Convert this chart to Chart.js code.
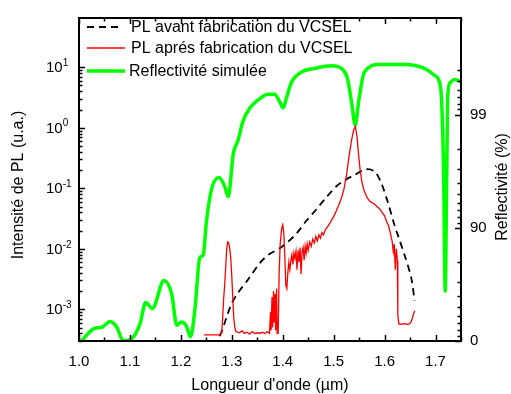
<!DOCTYPE html>
<html>
<head>
<meta charset="utf-8">
<script src="https://cdn.jsdelivr.net/npm/chart.js@4.4.1/dist/chart.umd.min.js"></script>
<style>
  html, body { margin: 0; padding: 0; background: #fff; }
  #wrap { width: 511px; height: 394px; }
</style>
</head>
<body>
<div id="wrap"><canvas id="chart" width="511" height="394"></canvas></div>
<script>
// simulated reflectivity (%) vs wavelength (um)
const reflWavelength = [1.005, 1.031, 1.045, 1.061, 1.074, 1.087, 1.107, 1.120, 1.131, 1.144,
  1.167, 1.182, 1.192, 1.201, 1.211, 1.219, 1.228, 1.237, 1.244, 1.250,
  1.260, 1.275, 1.286, 1.293, 1.303, 1.312, 1.322, 1.335, 1.352, 1.371,
  1.384, 1.394, 1.401, 1.407, 1.417, 1.437, 1.463, 1.496, 1.515, 1.527,
  1.535, 1.5425, 1.549, 1.558, 1.567, 1.587, 1.613, 1.639, 1.678, 1.698,
  1.708, 1.712, 1.716, 1.719, 1.722, 1.724, 1.729, 1.737, 1.750];
const reflectivity = [0.5, 22.9, 24.4, 32.9, 24.8, 0.5, 8.2, 30.2, 54.3, 48.5,
  70.8, 61.6, 27.4, 31.9, 25.9, 8.2, 49.5, 81.6, 82.6, 91.0,
  95.4, 96.4, 95.7, 94.7, 97.8, 98.3, 98.86, 99.12, 99.26, 99.34,
  99.34, 99.23, 99.13, 99.28, 99.48, 99.58, 99.61, 99.63, 99.61, 99.52,
  99.23, 98.76, 99.23, 99.55, 99.61, 99.64, 99.64, 99.64, 99.61, 99.55,
  99.48, 99.23, 96.5, 63.8, 96.5, 99.33, 99.48, 99.51, 99.49];

// PL before VCSEL fabrication (a.u.)
const plBeforeWavelength = [1.2765, 1.283, 1.2896, 1.2994, 1.3124, 1.332, 1.3549, 1.3712, 1.3941, 1.41,
  1.4269, 1.445, 1.4661, 1.485, 1.5053, 1.5182, 1.5412, 1.5641, 1.5804, 1.5935,
  1.6065, 1.6196, 1.6261, 1.6392, 1.6524, 1.6588];
const plBefore = [3.6e-4, 5e-4, 7.4e-4, 1.23e-3, 1.89e-3, 3.12e-3, 5.8e-3, 7.9e-3, 1.02e-2, 1.3e-2,
  1.78e-2, 2.8e-2, 4.5e-2, 7.0e-2, 0.108, 0.130, 0.167, 0.206, 0.189, 0.122,
  0.058, 0.0243, 0.0167, 7.9e-3, 3.3e-3, 1.39e-3];

// PL after VCSEL fabrication (a.u.)
const plAfterWavelength = [1.245, 1.260, 1.275, 1.280, 1.282, 1.284, 1.286, 1.288, 1.290, 1.292,
  1.294, 1.296, 1.298, 1.300, 1.302, 1.304, 1.306, 1.308, 1.315, 1.320,
  1.325, 1.330, 1.335, 1.340, 1.345, 1.350, 1.355, 1.360, 1.365, 1.370,
  1.374, 1.376, 1.377, 1.379, 1.380, 1.382, 1.383, 1.385, 1.386, 1.388,
  1.389, 1.391, 1.393, 1.395, 1.398, 1.400, 1.402, 1.404, 1.406, 1.408,
  1.410, 1.412, 1.414, 1.416, 1.418, 1.420, 1.422, 1.424, 1.426, 1.428,
  1.430, 1.432, 1.434, 1.436, 1.438, 1.440, 1.442, 1.444, 1.446, 1.448,
  1.450, 1.453, 1.456, 1.459, 1.462, 1.465, 1.468, 1.471, 1.474, 1.477,
  1.480, 1.484, 1.488, 1.492, 1.496, 1.500, 1.505, 1.510, 1.515, 1.520,
  1.525, 1.530, 1.535, 1.539, 1.5425, 1.546, 1.549, 1.552, 1.556, 1.560,
  1.565, 1.570, 1.575, 1.580, 1.585, 1.590, 1.595, 1.600, 1.604, 1.608,
  1.612, 1.615, 1.617, 1.619, 1.621, 1.623, 1.625, 1.626, 1.628, 1.635,
  1.640, 1.645, 1.650, 1.653, 1.656, 1.659];
const plAfter = [3.8e-4, 3.8e-4, 3.8e-4, 4.0e-4, 7e-4, 1.5e-3, 2.5e-3, 5e-3, 1.0e-2, 1.3e-2,
  1.25e-2, 1.0e-2, 7e-3, 3.5e-3, 1.5e-3, 7e-4, 5e-4, 4.3e-4, 4.1e-4, 4.4e-4,
  4.0e-4, 4.2e-4, 3.9e-4, 4.3e-4, 4.0e-4, 4.1e-4, 4.0e-4, 4.2e-4, 4.0e-4, 4.3e-4,
  4.0e-4, 9e-4, 4.5e-4, 1.6e-3, 5e-4, 2.0e-3, 6e-4, 1.8e-3, 4.5e-4, 2.2e-3,
  4e-4, 4e-4, 4e-3, 0.012, 0.022, 0.025, 0.019, 0.008, 0.0025, 0.0022,
  0.004, 0.006, 0.0045, 0.0065, 0.008, 0.0055, 0.0085, 0.007, 0.009, 0.0045,
  0.0095, 0.006, 0.0105, 0.0038, 0.009, 0.0105, 0.0065, 0.011, 0.0085, 0.012,
  0.0095, 0.013, 0.011, 0.0145, 0.0125, 0.016, 0.0135, 0.017, 0.015, 0.0185,
  0.017, 0.021, 0.023, 0.026, 0.030, 0.034, 0.042, 0.053, 0.068, 0.095,
  0.16, 0.33, 0.62, 0.9, 1.05, 0.7, 0.35, 0.2, 0.12, 0.09,
  0.072, 0.062, 0.058, 0.055, 0.050, 0.046, 0.040, 0.035, 0.028, 0.024,
  0.017, 0.013, 0.009, 0.012, 0.0045, 0.010, 0.0065, 8e-4, 5.7e-4, 5.7e-4,
  5.8e-4, 5.6e-4, 5.9e-4, 6.5e-4, 8e-4, 9.5e-4];

const seriesLabels = ["PL avant fabrication du VCSEL", "PL aprés fabrication du VCSEL", "Reflectivité simulée"];
const xTitle = "Longueur d'onde (µm)";
const yTitle = "Intensité de PL (u.a.)";
const y1Title = "Reflectivité (%)";

// tick values
const xMajorTicks = [1.0, 1.1, 1.2, 1.3, 1.4, 1.5, 1.6, 1.7];
const leftDecades = [-4, -3, -2, -1, 0, 1];
const rightTickLabels = [0, 90, 99];   // reflectivity %, drawn on a log(100 - R) axis

const FONT = "'Liberation Sans', Arial, sans-serif";

function pairs(xs, ys) {
  return xs.map((x, i) => ({ x: x, y: ys[i] }));
}

function isDecade(v) {
  const l = Math.log10(v);
  return Math.abs(l - Math.round(l)) < 1e-9;
}

// draws the frame, inward ticks, legend, left labels and axis titles
const frameAndLegend = {
  id: 'frameAndLegend',
  afterDatasetsDraw(chart) {
    const { ctx, chartArea: a, scales } = chart;
    ctx.save();
    ctx.strokeStyle = '#000';
    ctx.lineWidth = 1.5;
    ctx.beginPath();
    scales.x.ticks.forEach(t => {
      const px = Math.round(scales.x.getPixelForValue(t.value)) + 0.5;
      const len = t.major ? 6 : 3.5;
      ctx.moveTo(px, a.bottom); ctx.lineTo(px, a.bottom - len);
      ctx.moveTo(px, a.top); ctx.lineTo(px, a.top + len);
    });
    scales.y.ticks.forEach(t => {
      const py = Math.round(scales.y.getPixelForValue(t.value)) + 0.5;
      const len = t.major ? 6 : 3.5;
      ctx.moveTo(a.left, py); ctx.lineTo(a.left + len, py);
    });
    scales.y1.ticks.forEach(t => {
      const py = Math.round(scales.y1.getPixelForValue(t.value)) + 0.5;
      const len = t.major ? 6 : 3.5;
      ctx.moveTo(a.right, py); ctx.lineTo(a.right - len, py);
    });
    ctx.stroke();
    ctx.lineWidth = 2;
    ctx.strokeRect(a.left, a.top, a.right - a.left, a.bottom - a.top);

    // legend
    const ds = chart.data.datasets;
    const rows = [27, 48, 71];
    ctx.font = '16px ' + FONT;
    ctx.fillStyle = '#000';
    ctx.textBaseline = 'middle';
    ctx.textAlign = 'left';
    ds.forEach((d, i) => {
      ctx.save();
      ctx.strokeStyle = d.borderColor;
      ctx.lineWidth = d.borderWidth;
      ctx.setLineDash(d.borderDash || []);
      ctx.beginPath();
      ctx.moveTo(87, rows[i]);
      ctx.lineTo(i === 0 ? 120 : 125, rows[i]);
      ctx.stroke();
      ctx.restore();
      ctx.fillText(d.label, i === 2 ? 129 : 131, rows[i] + 1);
    });

    // left tick labels 10^n
    scales.y.ticks.forEach(t => {
      if (!t.major) return;
      const py = scales.y.getPixelForValue(t.value);
      const exp = String(Math.round(Math.log10(t.value)));
      ctx.font = '15px ' + FONT;
      ctx.textBaseline = 'middle';
      ctx.fillText('10', 46, py + 1);
      const w = ctx.measureText('10').width;
      ctx.font = '10px ' + FONT;
      ctx.fillText(exp, 46 + w, py - 4);
    });

    // axis titles
    ctx.font = '16px ' + FONT;
    ctx.textAlign = 'center';
    ctx.fillText(xTitle, (a.left + a.right) / 2, 386);
    ctx.save();
    ctx.translate(19, 185);
    ctx.rotate(-Math.PI / 2);
    ctx.fillText(yTitle, 0, 0);
    ctx.restore();
    ctx.save();
    ctx.translate(503, 187);
    ctx.rotate(-Math.PI / 2);
    ctx.fillText(y1Title, 0, 0);
    ctx.restore();
    ctx.restore();
  }
};

const ctx = document.getElementById('chart').getContext('2d');
const chart = new Chart(ctx, {
  type: 'line',
  data: {
    datasets: [
      {
        label: seriesLabels[0],
        data: pairs(plBeforeWavelength, plBefore),
        yAxisID: 'y',
        borderColor: '#000000',
        borderWidth: 1.8,
        borderDash: [7, 5],
        pointRadius: 0,
        tension: 0.3,
        order: 2
      },
      {
        label: seriesLabels[1],
        data: pairs(plAfterWavelength, plAfter),
        yAxisID: 'y',
        borderColor: '#ff0000',
        borderWidth: 1.3,
        pointRadius: 0,
        tension: 0,
        order: 1
      },
      {
        label: seriesLabels[2],
        data: pairs(reflWavelength, reflectivity.map(r => 100 - r)),
        yAxisID: 'y1',
        borderColor: '#00ff00',
        borderWidth: 3.5,
        pointRadius: 0,
        cubicInterpolationMode: 'monotone',
        order: 3
      }
    ]
  },
  options: {
    responsive: false,
    animation: false,
    devicePixelRatio: 1,
    layout: { padding: { top: 12, left: 0, right: 0, bottom: 0 } },
    plugins: {
      legend: { display: false },
      tooltip: { enabled: false }
    },
    scales: {
      x: {
        type: 'linear',
        min: 1.0,
        max: 1.75,
        grid: { display: false, drawTicks: false },
        border: { display: false },
        afterBuildTicks: scale => {
          const ticks = [];
          for (let i = 0; i <= 15; i++) {
            const v = Math.round((1.0 + i * 0.05) * 100) / 100;
            ticks.push({ value: v, major: xMajorTicks.some(m => Math.abs(m - v) < 1e-9) });
          }
          scale.ticks = ticks;
        },
        afterFit: scale => { scale.height = 53; },
        ticks: {
          autoSkip: false,
          maxRotation: 0,
          padding: 12,
          color: '#000',
          font: { family: FONT, size: 15 },
          callback: function (value) {
            return xMajorTicks.some(m => Math.abs(m - value) < 1e-9) ? value.toFixed(1) : '';
          }
        }
      },
      y: {
        type: 'logarithmic',
        position: 'left',
        min: 3e-4,
        max: 65,
        grid: { display: false, drawTicks: false },
        border: { display: false },
        afterBuildTicks: scale => {
          const ticks = [];
          leftDecades.forEach(e => {
            for (let m = 1; m <= 9; m++) {
              const v = m * Math.pow(10, e);
              if (v >= scale.min && v <= 10) ticks.push({ value: v, major: m === 1 });
            }
          });
          scale.ticks = ticks;
        },
        afterFit: scale => { scale.width = 79; },
        ticks: { display: false, autoSkip: false }
      },
      y1: {
        type: 'logarithmic',
        position: 'right',
        reverse: true,
        min: 0.14,
        max: 100,
        grid: { display: false, drawTicks: false },
        border: { display: false },
        afterBuildTicks: scale => {
          const ticks = [];
          [-1, 0, 1, 2].forEach(e => {
            for (let m = 1; m <= 9; m++) {
              const v = Math.round(m * Math.pow(10, e) * 1000) / 1000;
              if (v >= 0.4 && v <= scale.max) ticks.push({ value: v, major: m === 1 });
            }
          });
          scale.ticks = ticks;
        },
        afterFit: scale => { scale.width = 50; },
        ticks: {
          autoSkip: false,
          padding: 9,
          color: '#000',
          font: { family: FONT, size: 15 },
          callback: function (value) {
            const r = Math.round(100 - value);
            return isDecade(value) && rightTickLabels.includes(r) ? String(r) : '';
          }
        }
      }
    }
  },
  plugins: [frameAndLegend]
});
</script>
</body>
</html>
